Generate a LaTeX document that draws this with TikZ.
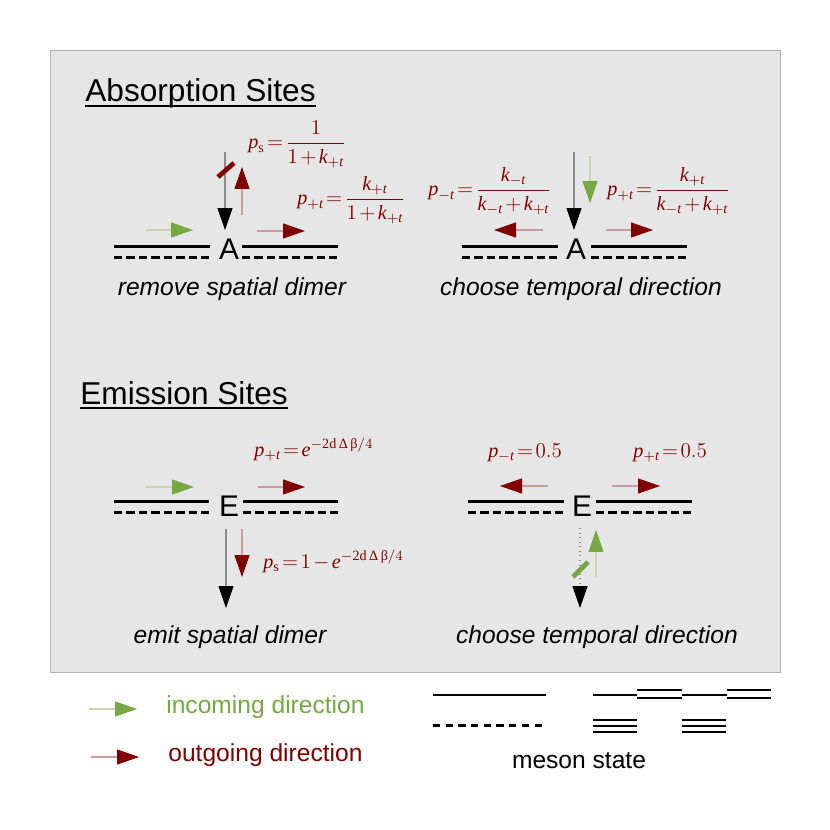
\documentclass[tikz,border=0pt]{standalone}
\usepackage{amsmath}
\usepackage{fontspec}
\setmainfont{Liberation Serif}
\setsansfont{Liberation Sans}
\usetikzlibrary{arrows.meta}
\definecolor{dred}{HTML}{800000}
\definecolor{lgreen}{HTML}{77A843}
\definecolor{panelgrey}{HTML}{E6E6E6}
\newcommand{\mi}[1]{\mathit{#1}}
\newcommand{\expo}{\mathrm{2d}\,\text{Δ}\,\text{β}/4}

\begin{document}
\begin{tikzpicture}[x=0.02cm,y=-0.02cm,
  mline/.style={line width=1.7pt},
  mdash/.style={line width=1.7pt,dash pattern=on 0.166cm off 0.083cm},
  site/.style={font=\sffamily\fontsize{17}{20}\selectfont,inner sep=0pt,anchor=base},
  prob/.style={text=dred,font={\fontsize{11.5}{13}\selectfont\thickmuskip=2mu\medmuskip=2mu},inner sep=0pt,anchor=base west},
  capt/.style={font=\sffamily\itshape\fontsize{14}{17}\selectfont,inner sep=0pt,anchor=base},
  ttl/.style={font=\sffamily\fontsize{18}{22}\selectfont,inner sep=0pt,anchor=base west},
  legtext/.style={font=\sffamily\fontsize{14}{17}\selectfont,inner sep=0pt,anchor=base west},
  redarr/.style={draw=dred!40,line width=0.6pt,-{Triangle[length=0.44cm,width=0.3cm,color=dred]}},
  grnarr/.style={draw=lgreen!45,line width=0.6pt,-{Triangle[length=0.44cm,width=0.3cm,color=lgreen]}},
  blkarr/.style={draw=black!45,line width=0.6pt,-{Triangle[length=0.44cm,width=0.3cm,color=black]}},
  dimerbar/.style={line width=2.7pt}]
\useasboundingbox (0,0) rectangle (830,830);
\fill[white] (0,0) rectangle (830,830);
\draw[draw=black!30,fill=panelgrey] (50,50) rectangle (780,672);

% titles
\node[ttl] (tabs) at (85,102) {Absorption Sites};
\draw[line width=1.1pt] ([yshift=-0.08cm]tabs.base west) -- ([yshift=-0.08cm]tabs.base east);
\node[ttl] (temi) at (80,404) {Emission Sites};
\draw[line width=1.1pt] ([yshift=-0.08cm]temi.base west) -- ([yshift=-0.08cm]temi.base east);

% meson lines at the four sites
\foreach \xa/\xb/\yy in {114/210/246.7,242/338/246.7,462/558/246.7,591/687/246.7,
                         114/209/501.7,243/338/501.7,468/564/501.7,596/692/501.7}{
  \draw[mline] (\xa,\yy) -- (\xb,\yy);
  \draw[mdash] (\xa,\yy+10.5) -- (\xb,\yy+10.5);
}

% absorption: remove spatial dimer
\node[site] (a1) at (229,259.5) {A};
\draw[grnarr] (146,230) -- (193,230);
\draw[blkarr] (225,152) -- (225,230);
\draw[redarr] (242,215) -- (242,167);
\draw[redarr] (257,231) -- (305,231);
\draw[dimerbar,dred] (218,177) -- (234,163);
\node[prob] (ps1) at (248,149) {$\mi{p}_{\mathrm{s}}=\dfrac{1}{1+\mi{k}_{+\mi{t}}}$};
\node[prob] (pt1) at (297,205) {$\mi{p}_{+\mi{t}}=\dfrac{\mi{k}_{+\mi{t}}}{1+\mi{k}_{+\mi{t}}}$};
\node[capt] (c1) at (232,296) {remove spatial dimer};

% absorption: choose temporal direction
\node[site] (a2) at (576,259.5) {A};
\draw[blkarr] (574,152) -- (574,230);
\draw[grnarr] (590,156) -- (590,203);
\draw[redarr] (543,230) -- (494,230);
\draw[redarr] (606,230) -- (653,230);
\node[prob] (pm2) at (428,196) {$\mi{p}_{-\mi{t}}=\dfrac{\mi{k}_{-\mi{t}}}{\mi{k}_{-\mi{t}}+\mi{k}_{+\mi{t}}}$};
\node[prob] (pp2) at (607,196) {$\mi{p}_{+\mi{t}}=\dfrac{\mi{k}_{+\mi{t}}}{\mi{k}_{-\mi{t}}+\mi{k}_{+\mi{t}}}$};
\node[capt] (c2) at (581,296) {choose temporal direction};

% emission: emit spatial dimer
\node[site] (e1) at (229,516.5) {E};
\draw[grnarr] (146,487) -- (194,487);
\draw[redarr] (258,487) -- (305,487);
\draw[blkarr] (226,529) -- (226,608);
\draw[redarr] (242,529) -- (242,577);
\node[prob] (pe1) at (254,456) {$\mi{p}_{+\mi{t}}=\mi{e}^{-\expo}$};
\node[prob] (ps3) at (263,568) {$\mi{p}_{\mathrm{s}}=1-\mi{e}^{-\expo}$};
\node[capt] (c3) at (230,643) {emit spatial dimer};

% emission: choose temporal direction
\node[site] (e2) at (582,516.5) {E};
\draw[redarr] (548,486) -- (500,486);
\draw[redarr] (612,486) -- (660,486);
\draw[blkarr,dotted,line width=0.8pt] (580,528) -- (580,608);
\draw[grnarr] (596,577) -- (596,530);
\draw[dimerbar,lgreen] (573,577) -- (588,562);
\node[prob] (pm4) at (488,457) {$\mi{p}_{-\mi{t}}=0.5$};
\node[prob] (pp4) at (633,457) {$\mi{p}_{+\mi{t}}=0.5$};
\node[capt] (c4) at (597,643) {choose temporal direction};

% legend
\draw[grnarr] (89,709) -- (137,709);
\node[legtext,text=lgreen] (lin) at (166,713) {incoming direction};
\draw[redarr] (91,757) -- (139,757);
\node[legtext,text=dred] (lout) at (168,761) {outgoing direction};
\draw[line width=1.5pt] (433,695) -- (546,695);
\draw[line width=1.5pt,dash pattern=on 0.146cm off 0.108cm] (433,725.7) -- (542,725.7);
\draw[line width=1.5pt] (593,695) -- (637,695) (682,695) -- (727,695);
\foreach \xa/\xb in {637/682,727/771}{
  \draw[line width=1.4pt] (\xa,690) -- (\xb,690) (\xa,698) -- (\xb,698);
}
\foreach \xa/\xb in {593/637,682/726}{
  \draw[line width=1.5pt] (\xa,720) -- (\xb,720) (\xa,726) -- (\xb,726) (\xa,732) -- (\xb,732);
}
\node[legtext,anchor=base] (lms) at (579,768) {meson state};
\end{tikzpicture}
\end{document}
